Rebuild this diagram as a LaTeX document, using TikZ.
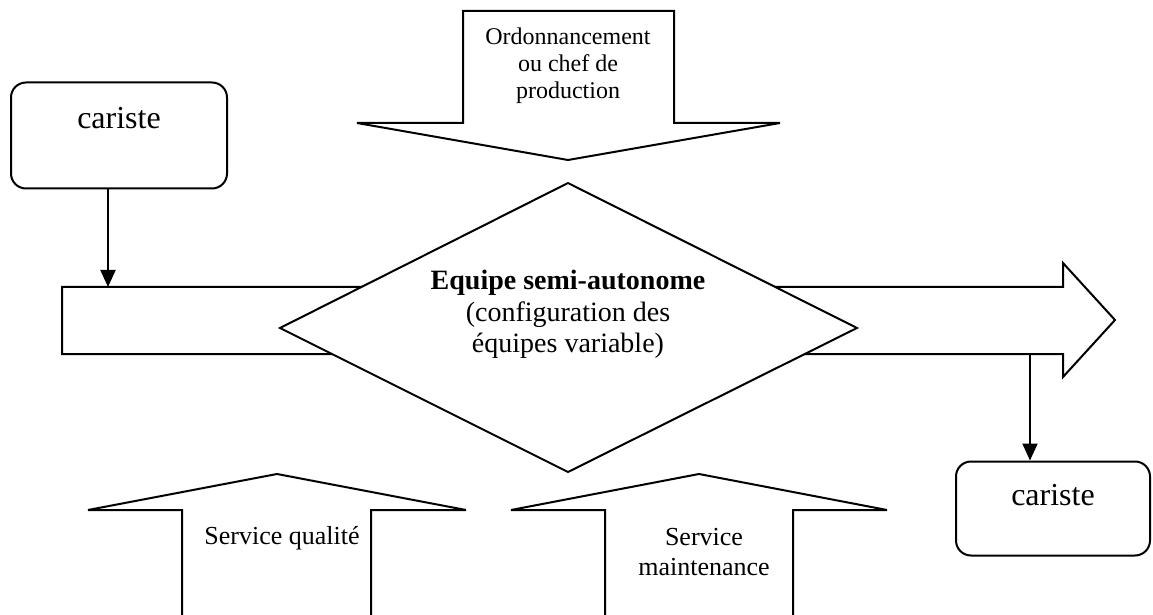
\documentclass[tikz,border=0pt]{standalone}
\usepackage{fontspec}
\setmainfont{Liberation Serif}
\usepackage{tikz}
\usetikzlibrary{arrows.meta,calc,positioning}
\tikzset{
  signal/.style={-{Triangle[length=8.5pt,width=7.5pt]}, line width=1pt, draw=black},
  bigarrow/.style={draw=black, line width=1pt, fill=white, line join=miter},
  actor/.style={draw=black, line width=1pt, rectangle, rounded corners=7.5pt, fill=white, inner xsep=0pt, text height=11pt, font=\fontsize{16}{18}\selectfont},
  note/.style={font=\fontsize{12}{13.6}\selectfont, align=center},
  lownote/.style={font=\fontsize{13}{15}\selectfont, align=center}
}
\begin{document}
\begin{tikzpicture}[x=0.5pt, y=-0.5pt]
  \useasboundingbox (0,0) rectangle (1153,615);
  % flux principal
  \draw[bigarrow] (62,287) -- (1063,287) -- (1063,263) -- (1115,320) -- (1063,377) -- (1063,354) -- (62,354) -- cycle;
  \coordinate (in1) at (108,287);
  \coordinate (out1) at (1030,354);
  % equipe
  \draw[bigarrow] (568,183) -- (857,328) -- (568,472) -- (280,328) -- cycle;
  \node[align=center, font=\fontsize{14}{15.75}\selectfont] (equipe) at (568,314.5) {\textbf{Equipe semi-autonome}\\(configuration des\\équipes variable)};
  % ordonnancement
  \draw[bigarrow] (463,11) -- (674,11) -- (674,123) -- (780,123) -- (568,160) -- (357,123) -- (463,123) -- cycle;
  \node[note] (ordo) at (568,66) {Ordonnancement\\ou chef de\\production};
  % services
  \draw[bigarrow] (182,615) -- (182,510) -- (88,510) -- (277,474) -- (466,510) -- (371,510) -- (371,615);
  \node[lownote] (qualite) at (282,538.5) {Service qualité};
  \draw[bigarrow] (605,615) -- (605,510) -- (511,510) -- (699,474) -- (887,510) -- (793,510) -- (793,615);
  \node[lownote] (maintenance) at (704,552.5) {Service\\maintenance};
  % caristes
  \node[actor, minimum width=108pt, inner ysep=12pt, text depth=18pt] (caristeIn) at (119,135.5) {cariste};
  \node[actor, minimum width=97pt, inner ysep=11pt, text depth=14pt] (caristeOut) at (1053,508.5) {cariste};
  \draw[signal] (caristeIn.south -| in1) -- (in1);
  \draw[signal] (out1) -- (out1 |- caristeOut.north);
\end{tikzpicture}
\end{document}
